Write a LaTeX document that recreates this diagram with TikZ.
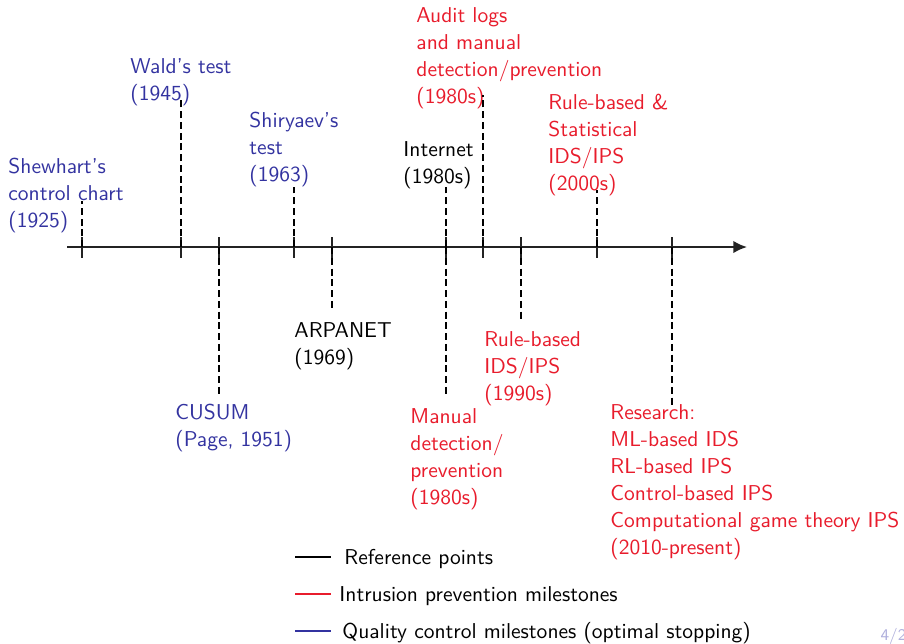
\documentclass[tikz,border=0pt]{standalone}
\usetikzlibrary{arrows.meta}
\definecolor{qcblue}{RGB}{51,51,160}
\definecolor{ipred}{RGB}{232,28,44}
\definecolor{axisgray}{RGB}{35,35,35}
\definecolor{pagegray}{RGB}{175,175,220}
\begin{document}
\begin{tikzpicture}[x=0.4pt,y=-0.4pt,
  lbl/.style={anchor=north west,inner sep=0pt,align=left,scale=0.896,
    font=\fontsize{9.6}{12.05}\selectfont\sffamily},
  ref/.style={lbl,text=black},
  qc/.style={lbl,text=qcblue},
  ip/.style={lbl,text=ipred},
  tickmark/.style={line width=0.75pt,draw=axisgray},
  guide/.style={line width=0.6pt,draw=black,dash pattern=on 2.8pt off 1.5pt},
  legline/.style={line width=0.45pt},
  legtext/.style={anchor=west,inner sep=0pt,scale=0.896,font=\fontsize{9.6}{12.05}\selectfont\sffamily}]
\useasboundingbox (0,0) rectangle (904,643);

% time axis
\coordinate (axstart) at (67,247);
\coordinate (axend) at (747,247);
\draw[line width=0.75pt,draw=axisgray,-{Latex[length=5.5pt,width=5pt]}] (axstart) -- (axend);

% tick positions on the axis
\foreach \name/\x in {t1/82,t2/181,t3/219,t4/294,t5/332,t6/446,t7/483,t8/521,t9/597,t10/672}{
  \coordinate (\name) at (\x,247);
  \coordinate (\name-a) at (\x,237);
  \coordinate (\name-b) at (\x,258);
  \draw[tickmark] (\name-a) -- (\name-b);
}

% labels above the axis
\node[qc] (shewhart) at (8,158) {Shewhart's\\control chart\\(1925)};
\node[qc] (wald) at (130,58) {Wald's test\\(1945)};
\node[qc] (shiryaev) at (249,112) {Shiryaev's\\test\\(1963)};
\node[ref] (internet) at (403,141) {Internet\\(1980s)};
\node[ip] (audit) at (416,7) {Audit logs\\and manual\\detection/prevention\\(1980s)};
\node[ip] (rulestat) at (548,94) {Rule-based \&\\Statistical\\IDS/IPS\\(2000s)};

% labels below the axis
\node[qc] (cusum) at (175,404) {CUSUM\\(Page, 1951)};
\node[ref] (arpanet) at (294,322) {ARPANET\\(1969)};
\node[ip] (manual) at (410,408) {Manual\\detection/\\prevention\\(1980s)};
\node[ip] (rulebased) at (484,331) {Rule-based\\IDS/IPS\\(1990s)};
\node[ip] (research) at (610,404) {Research:\\ML-based IDS\\RL-based IPS\\Control-based IPS\\Computational game theory IPS\\(2010-present)};

% dashed guides from the axis to the labels
\coordinate (g1) at (82,201);
\coordinate (g2) at (181,99);
\coordinate (g3) at (219,395);
\coordinate (g4) at (294,187);
\coordinate (g5) at (332,310);
\coordinate (g6u) at (446,187);
\coordinate (g6d) at (446,396);
\coordinate (g7) at (483,95);
\coordinate (g8) at (521,322);
\coordinate (g9) at (597,190);
\coordinate (g10) at (672,406);
\draw[guide] (t1) -- (g1);
\draw[guide] (t2) -- (g2);
\draw[guide] (t3) -- (g3);
\draw[guide] (t4) -- (g4);
\draw[guide] (t5) -- (g5);
\draw[guide] (t6) -- (g6u);
\draw[guide] (t6) -- (g6d);
\draw[guide] (t7) -- (g7);
\draw[guide] (t8) -- (g8);
\draw[guide] (t9) -- (g9);
\draw[guide] (t10) -- (g10);

% legend
\node[legtext] (legref) at (344,559) {Reference points};
\node[legtext] (legip) at (339,596) {Intrusion prevention milestones};
\node[legtext] (legqc) at (342,633) {Quality control milestones (optimal stopping)};
\coordinate (lr0) at (295,557); \coordinate (lr1) at (331,557);
\coordinate (li0) at (295,594); \coordinate (li1) at (331,594);
\coordinate (lq0) at (295,631); \coordinate (lq1) at (331,631);
\draw[legline,black] (lr0) -- (lr1);
\draw[legline,ipred] (li0) -- (li1);
\draw[legline,qcblue] (lq0) -- (lq1);

% page counter
\node[anchor=base west,inner sep=0pt,text=pagegray,font=\fontsize{6.5}{8}\selectfont\sffamily] (page) at (880,640) {4/2};
\end{tikzpicture}
\end{document}
